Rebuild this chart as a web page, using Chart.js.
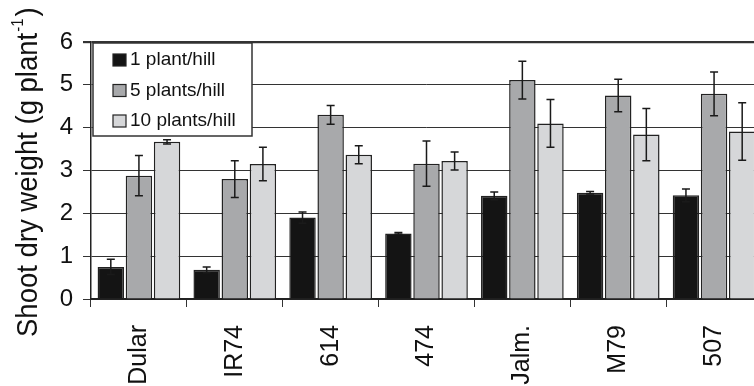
<!DOCTYPE html>
<html>
<head>
<meta charset="utf-8">
<script src="https://cdn.jsdelivr.net/npm/chart.js@4.4.0/dist/chart.umd.min.js"></script>
<style>
  html, body { margin: 0; padding: 0; background: #fff; overflow: hidden; }
  #wrap { width: 770px; height: 386px; }
</style>
</head>
<body>
<div id="wrap"><canvas id="shootChart"></canvas></div>
<script>
// cultivars on the x axis
const categories = ['Dular', 'IR74', '614', '474', 'Jalm.', 'M79', '507'];
const seriesNames = ['1 plant/hill', '5 plants/hill', '10 plants/hill'];

// shoot dry weight, g per plant
const onePlant = [0.75, 0.68, 1.90, 1.53, 2.41, 2.48, 2.42];
const onePlantErr = [0.18, 0.07, 0.13, 0.02, 0.09, 0.03, 0.15];
const fivePlants = [2.88, 2.80, 4.30, 3.16, 5.11, 4.75, 4.79];
const fivePlantsErr = [0.47, 0.43, 0.22, 0.53, 0.44, 0.38, 0.51];
const tenPlants = [3.67, 3.15, 3.37, 3.22, 4.10, 3.84, 3.91];
const tenPlantsErr = [0.05, 0.39, 0.21, 0.21, 0.56, 0.61, 0.67];

const yTicks = [0, 1, 2, 3, 4, 5, 6];

const FONT = 'Liberation Sans, Arial, sans-serif';
const INK = '#1a1a1a';

// error bars drawn on top of each bar
const errorBars = {
  id: 'errorBars',
  afterDatasetsDraw(chart) {
    const ctx = chart.ctx;
    const y = chart.scales.y;
    ctx.save();
    ctx.strokeStyle = INK;
    ctx.lineWidth = 1.5;
    chart.data.datasets.forEach((ds, i) => {
      const meta = chart.getDatasetMeta(i);
      meta.data.forEach((bar, j) => {
        const v = ds.data[j], e = ds.errors[j];
        const top = y.getPixelForValue(v + e);
        const bot = y.getPixelForValue(v - e);
        ctx.beginPath();
        ctx.moveTo(bar.x, top); ctx.lineTo(bar.x, bot);
        ctx.moveTo(bar.x - 4, top); ctx.lineTo(bar.x + 4, top);
        ctx.moveTo(bar.x - 4, bot); ctx.lineTo(bar.x + 4, bot);
        ctx.stroke();
      });
    });
    ctx.restore();
  }
};

// boxed legend inside the plot, top left
const boxLegend = {
  id: 'boxLegend',
  afterDraw(chart) {
    const ctx = chart.ctx;
    const x0 = chart.chartArea.left + 2, y0 = chart.chartArea.top + 1;
    ctx.save();
    ctx.fillStyle = '#fff';
    ctx.fillRect(x0, y0, 159, 93);
    ctx.strokeStyle = '#333';
    ctx.lineWidth = 1.5;
    ctx.strokeRect(x0, y0, 159, 93);
    ctx.font = '19px ' + FONT;
    ctx.textBaseline = 'middle';
    chart.data.datasets.forEach((ds, i) => {
      const cy = y0 + 17 + i * 30.5;
      ctx.fillStyle = ds.backgroundColor;
      ctx.fillRect(x0 + 20, cy - 6, 13, 12);
      ctx.strokeStyle = '#222';
      ctx.lineWidth = 1.2;
      ctx.strokeRect(x0 + 20, cy - 6, 13, 12);
      ctx.fillStyle = '#111';
      ctx.fillText(ds.label, x0 + 37, cy);
    });
    ctx.restore();
  }
};

// y axis title with a real superscript
const yTitle = {
  id: 'yTitle',
  afterDraw(chart) {
    const ctx = chart.ctx;
    ctx.save();
    ctx.translate(37, 337);
    ctx.rotate(-Math.PI / 2);
    ctx.scale(1, 1.1);
    ctx.fillStyle = '#111';
    ctx.textBaseline = 'alphabetic';
    ctx.font = '27.5px ' + FONT;
    const main = 'Shoot dry weight (g plant';
    ctx.fillText(main, 0, 0);
    let x = ctx.measureText(main).width + 1;
    ctx.font = '15px ' + FONT;
    ctx.fillText('-1', x, -13);
    x += ctx.measureText('-1').width + 2;
    ctx.font = '27.5px ' + FONT;
    ctx.fillText(')', x, 0);
    ctx.restore();
  }
};

new Chart(document.getElementById('shootChart').getContext('2d'), {
  type: 'bar',
  data: {
    labels: categories,
    datasets: [
      { label: seriesNames[0], data: onePlant, errors: onePlantErr, backgroundColor: '#141414' },
      { label: seriesNames[1], data: fivePlants, errors: fivePlantsErr, backgroundColor: '#a8a9ab' },
      { label: seriesNames[2], data: tenPlants, errors: tenPlantsErr, backgroundColor: '#d6d7d9' }
    ].map(d => Object.assign(d, {
      borderColor: '#222',
      borderWidth: 1.5,
      categoryPercentage: 0.88,
      barPercentage: 0.94
    }))
  },
  options: {
    responsive: true,
    maintainAspectRatio: false,
    animation: false,
    layout: { padding: { top: 42, right: 8, left: 0, bottom: 0 } },
    plugins: { legend: { display: false }, tooltip: { enabled: false } },
    scales: {
      x: {
        afterFit: s => { s.height = 87; },
        grid: { offset: true, drawOnChartArea: false, drawTicks: true, tickLength: 8, color: '#333', lineWidth: 1 },
        border: { display: true, color: '#222', width: 2 },
        ticks: { minRotation: 90, maxRotation: 90, padding: 18, color: '#111', font: { family: FONT, size: 25 } }
      },
      y: {
        min: 0,
        max: 6,
        afterFit: s => { s.width = 91; },
        afterBuildTicks: s => { s.ticks = yTicks.map(v => ({ value: v })); },
        grid: {
          color: '#333',
          lineWidth: c => (c.tick && c.tick.value === 6 ? 2.2 : 1),
          tickLength: 8
        },
        border: { display: true, color: '#222', width: 1.5 },
        ticks: { padding: 10, color: '#111', font: { family: FONT, size: 24 } }
      }
    }
  },
  plugins: [errorBars, boxLegend, yTitle]
});
</script>
</body>
</html>
